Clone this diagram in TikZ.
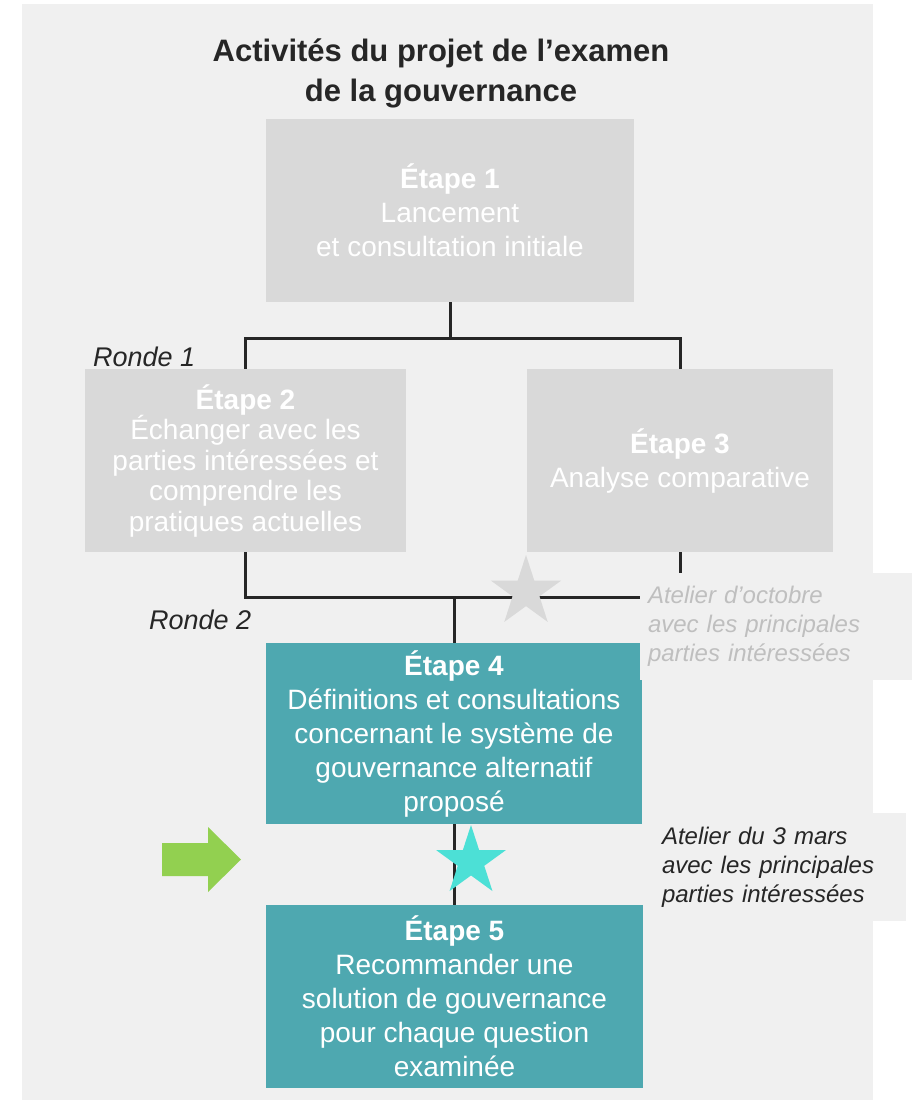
\documentclass[tikz,border=0pt]{standalone}
\usepackage{fontspec}
\setmainfont{Liberation Sans}
\usetikzlibrary{shapes}
\definecolor{fondgris}{HTML}{F0F0F0}
\definecolor{boitegris}{HTML}{D9D9D9}
\definecolor{boitebleu}{HTML}{4EA8B0}
\definecolor{trait}{HTML}{262626}
\definecolor{notegris}{HTML}{BFBFBF}
\definecolor{etoilebleu}{HTML}{4CE0D6}
\definecolor{flechevert}{HTML}{92D050}

\begin{document}
\begin{tikzpicture}[x=1pt,y=-1pt]
  \tikzstyle{etape}=[rectangle,fill=boitegris,text=white,inner sep=0pt,align=center,font=\fontsize{28}{34}\selectfont]
  \tikzstyle{etapebleu}=[etape,fill=boitebleu]
  \tikzstyle{lien}=[draw=trait,line width=3pt]
  \tikzstyle{note}=[rectangle,fill=fondgris,inner sep=0pt,align=left,font=\itshape\fontsize{24}{29}\selectfont]
  \tikzstyle{ronde}=[anchor=west,inner sep=0pt,text=trait,font=\itshape\fontsize{27}{32}\selectfont]
  \tikzstyle{etoile}=[star,star points=5,star point ratio=2.618,inner sep=0pt]
  \useasboundingbox (0,0) rectangle (912,1102);
  \fill[fondgris] (22,4) rectangle (873,1100);
  \node[font=\bfseries\fontsize{31}{40}\selectfont,text=trait,align=center] (titre) at (441,73)
    {Activités du projet de l’examen\\de la gouvernance};
  \node[etape,minimum width=368,minimum height=183] (e1) at (450,210.5)
    {\textbf{Étape 1}\\Lancement\\et consultation initiale};
  \node[etape,minimum width=321,minimum height=183,font=\fontsize{28}{30.5}\selectfont] (e2) at (245.5,460.5)
    {\textbf{Étape 2}\\Échanger avec les\\parties intéressées et\\comprendre les\\pratiques actuelles};
  \node[etape,minimum width=306,minimum height=183] (e3) at (680,460.5)
    {\textbf{Étape 3}\\Analyse comparative};
  \node[etapebleu,minimum width=376,minimum height=181] (e4) at (454,733.5)
    {\textbf{Étape 4}\\Définitions et consultations\\concernant le système de\\gouvernance alternatif\\proposé};
  \node[etapebleu,minimum width=377,minimum height=183] (e5) at (454.5,996.5)
    {\textbf{Étape 5}\\Recommander une\\solution de gouvernance\\pour chaque question\\examinée};
  \node[ronde] (r1) at (93,357) {Ronde 1};
  \node[ronde] (r2) at (149,620) {Ronde 2};
  % liens
  \coordinate (j1) at (e1.south |- 0,338);
  \coordinate (j2) at (454,597);
  \draw[lien] (e1.south) -- (j1);
  \draw[lien] (e2.north) |- (j1) -| (e3.north);
  \draw[lien] (e2.south) |- (j2) -| (e3.south);
  \draw[lien] (j2) -- (e4.north);
  \draw[lien] (e4.south -| j2) -- (e5.north -| j2);
  % ateliers
  \node[note,text=notegris,minimum width=272,minimum height=107,text width=256] (a1) at (776,626.5)
    {Atelier d’octobre\\avec les principales\\parties intéressées};
  \node[note,text=trait,minimum width=263,minimum height=108,text width=225] (a2) at (774.5,867)
    {Atelier du 3 mars\\avec les principales\\parties intéressées};
  \node[etoile,fill=boitegris,minimum size=74] (s1) at (526,592) {};
  \node[etoile,fill=etoilebleu,minimum size=73] (s2) at (471,861.5) {};
  \fill[flechevert] (162,843) -- (208,843) -- (208,827) -- (241,859.5) -- (208,892) -- (208,876) -- (162,876) -- cycle;
\end{tikzpicture}
\end{document}
